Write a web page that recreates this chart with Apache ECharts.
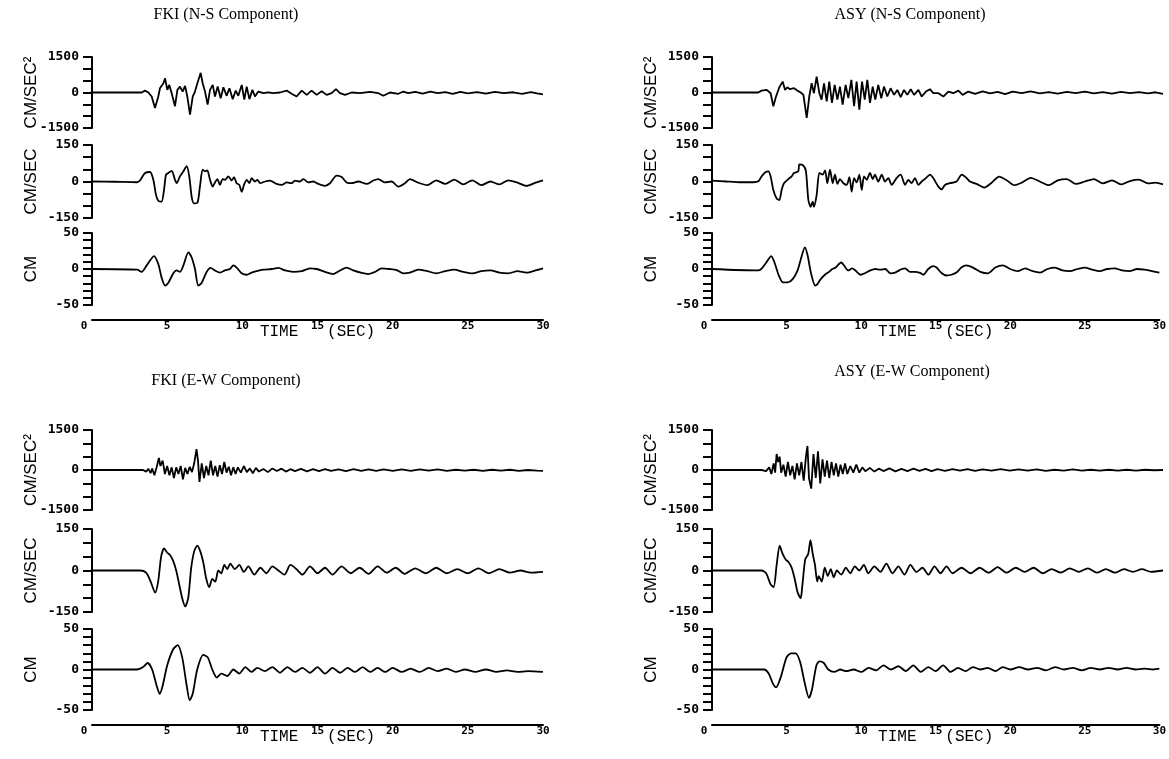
<!DOCTYPE html>
<html>
<head>
<meta charset="utf-8">
<title>FKI / ASY records</title>
<script src="https://cdn.jsdelivr.net/npm/echarts@6/dist/echarts.min.js"></script>
<style>
  html, body { margin: 0; padding: 0; background: #fff; }
  #chart { width: 1169px; height: 759px; }
</style>
</head>
<body>
<div id="chart"></div>
<script>
// ---- axis ticks and labels ----
const timeTicks = [0, 5, 10, 15, 20, 25, 30];
const accLabels = [1500, 0, -1500];
const velLabels = [150, 0, -150];
const dispLabels = [50, 0, -50];

// ---- FKI, N-S component: [time (s), value] ----
const fkiNsAcc = [[0,0],[3.3,0],[3.53,80],[3.75,0],[3.97,-170],[4.19,-650],[4.41,-170],[4.52,180],[4.75,390],[4.86,600],[5.01,110],[5.14,320],[5.3,-30],[5.52,-580],[5.68,110],[5.85,250],[6.03,40],[6.19,280],[6.34,-170],[6.52,-930],[6.7,-170],[6.85,40],[7.01,390],[7.23,830],[7.36,390],[7.52,40],[7.69,-510],[7.85,110],[8.03,320],[8.18,-170],[8.36,250],[8.56,-240],[8.74,220],[8.96,-140],[9.14,180],[9.36,-280],[9.56,80],[9.73,-140],[9.96,320],[10.13,-300],[10.29,250],[10.47,-280],[10.67,110],[10.84,-170],[11.06,40],[11.4,-30],[11.73,10],[12.06,-30],[12.5,0],[12.95,80],[13.28,-55],[13.61,-170],[13.95,80],[14.28,-100],[14.61,80],[14.94,-100],[15.28,55],[15.61,-100],[15.94,-30],[16.23,140],[16.5,-30],[16.83,-100],[17.27,0],[17.83,-30],[18.49,30],[19.05,-30],[19.38,-140],[19.82,0],[20.38,-55],[20.71,40],[21.04,-30],[21.5,30],[22.0,-50],[22.5,40],[23.0,-30],[23.5,20],[24.0,-60],[24.5,30],[25.0,-40],[25.6,20],[26.2,-50],[26.8,30],[27.4,-30],[28.0,10],[28.6,-60],[29.2,20],[29.6,-40],[30,-80]];
const fkiNsVel = [[0,0],[1.5,-1],[3.0,-3],[3.19,4],[3.53,35],[3.86,39],[4.08,7],[4.26,-56],[4.41,-79],[4.63,-83],[4.79,-35],[4.92,28],[5.08,35],[5.3,44],[5.52,7],[5.63,-7],[5.85,21],[6.08,42],[6.3,63],[6.47,21],[6.63,-63],[6.78,-90],[7.01,-88],[7.18,-21],[7.36,49],[7.52,42],[7.67,46],[7.85,7],[8.03,-21],[8.18,-4],[8.34,10],[8.51,-14],[8.69,10],[8.85,7],[9.07,21],[9.29,4],[9.45,18],[9.62,-7],[9.8,-14],[9.96,-42],[10.11,-14],[10.29,7],[10.47,-7],[10.62,14],[10.84,0],[11.0,7],[11.18,-7],[11.51,0],[11.84,4],[12.28,-10],[12.62,-14],[12.95,-4],[13.28,-7],[13.5,4],[13.84,0],[14.06,10],[14.39,-4],[14.72,0],[15.06,-10],[15.5,-18],[15.83,-7],[16.27,24],[16.61,18],[16.94,-4],[17.27,-7],[17.72,0],[18.27,-10],[18.71,4],[19.05,10],[19.49,-4],[19.93,0],[20.38,-21],[20.82,-7],[21.15,10],[21.7,-5],[22.3,-15],[22.9,5],[23.5,-10],[24.1,8],[24.7,-12],[25.3,5],[25.9,-15],[26.5,0],[27.1,-12],[27.7,5],[28.3,-5],[28.9,-18],[29.5,-5],[30,5]];
const fkiNsDisp = [[0,0],[3.0,-1],[3.3,-4],[3.64,5],[4.12,18],[4.41,7],[4.63,-12],[4.86,-23],[5.08,-19],[5.41,-6],[5.63,-2],[5.85,-4],[6.08,5],[6.41,23],[6.63,16],[6.85,0],[7.07,-23],[7.3,-19],[7.63,-4],[7.89,1.5],[8.18,-2],[8.51,-5],[8.85,-2],[9.18,0],[9.4,5],[9.62,2],[9.96,-6],[10.29,-8],[10.62,-5],[10.95,-3],[11.4,-1],[11.95,0],[12.4,1.5],[12.84,-2],[13.39,-4],[13.95,-3],[14.5,1],[14.94,0],[15.5,-4],[16.05,-7],[16.5,-2],[16.94,2],[17.38,-2],[17.94,-5.5],[18.38,-7],[18.82,-4],[19.27,1],[19.82,0],[20.27,-1.5],[20.71,-6],[21.15,-5],[21.7,-1],[22.3,-3],[22.9,-6],[23.5,-3],[24.1,-1],[24.7,-4],[25.3,-6],[25.9,-3],[26.5,-2],[27.1,-5],[27.7,-6],[28.3,-3],[28.9,-5],[29.5,-2],[30,1]];

// ---- ASY, N-S component ----
const asyNsAcc = [[0,0],[3.08,0],[3.3,80],[3.64,110],[3.9,-30],[4.08,-580],[4.26,-170],[4.48,220],[4.7,460],[4.86,110],[5.01,220],[5.19,140],[5.45,180],[5.68,80],[5.9,0],[6.08,-100],[6.3,-1070],[6.47,-170],[6.63,390],[6.78,-30],[6.96,670],[7.14,-30],[7.29,-300],[7.45,390],[7.63,-375],[7.8,460],[7.98,-440],[8.16,320],[8.34,-300],[8.51,250],[8.69,-510],[8.89,320],[9.07,-240],[9.27,530],[9.45,-580],[9.62,460],[9.8,-720],[9.98,460],[10.16,-300],[10.33,530],[10.51,-440],[10.69,250],[10.86,-300],[11.06,320],[11.26,-240],[11.44,250],[11.66,-170],[11.88,180],[12.11,-100],[12.33,110],[12.55,-200],[12.77,110],[12.99,-100],[13.22,140],[13.44,-100],[13.73,110],[13.95,-170],[14.23,40],[14.5,140],[14.72,-30],[15.06,-30],[15.39,-170],[15.72,40],[16.05,-30],[16.39,80],[16.67,-100],[17.05,40],[17.5,-60],[18.0,50],[18.5,-40],[19.0,30],[19.5,-70],[20.0,40],[20.6,-30],[21.2,50],[21.8,-40],[22.4,20],[23.0,-50],[23.6,30],[24.2,-30],[24.8,40],[25.4,-40],[26.0,20],[26.6,-50],[27.2,30],[27.8,-30],[28.4,20],[29.0,-40],[29.5,10],[30,-60]];
const asyNsVel = [[0,4],[0.98,0],[1.86,-3],[2.75,-3],[3.08,1],[3.3,21],[3.53,37],[3.75,42],[3.9,21],[4.08,-35],[4.3,-70],[4.48,-76],[4.63,-35],[4.79,-7],[5.08,10],[5.3,21],[5.45,35],[5.74,42],[5.81,70],[6.08,65],[6.25,42],[6.41,-76],[6.56,-104],[6.7,-83],[6.78,-104],[6.96,-56],[7.14,35],[7.36,28],[7.52,46],[7.67,-7],[7.85,49],[8.03,-7],[8.18,28],[8.34,-10],[8.51,10],[8.74,-7],[8.96,-14],[9.14,18],[9.29,-42],[9.45,14],[9.62,-4],[9.8,28],[9.96,-35],[10.11,21],[10.29,7],[10.51,35],[10.69,10],[10.84,28],[11.06,0],[11.29,28],[11.51,0],[11.73,14],[11.95,-14],[12.28,14],[12.55,28],[12.84,-14],[13.06,7],[13.28,-7],[13.5,14],[13.73,-14],[13.95,0],[14.23,14],[14.5,28],[14.72,14],[15.06,-21],[15.28,-32],[15.5,-14],[15.83,-7],[16.27,0],[16.61,28],[16.94,14],[17.16,0],[17.6,-10],[18.1,-25],[18.6,-5],[19.1,20],[19.6,5],[20.1,-15],[20.6,-5],[21.2,15],[21.8,0],[22.4,-15],[23.0,5],[23.6,10],[24.2,-10],[24.8,0],[25.4,10],[26.0,-8],[26.6,5],[27.2,-12],[27.8,2],[28.4,8],[29.0,-8],[29.5,-5],[30,-12]];
const asyNsDisp = [[0,0],[3.08,-2],[3.3,0],[3.64,9],[3.97,18],[4.19,9],[4.48,-9],[4.75,-18.5],[5.08,-18.5],[5.41,-14],[5.74,-2],[5.96,14],[6.23,30],[6.41,19],[6.63,-5],[6.92,-23],[7.07,-21],[7.29,-14],[7.63,-7],[7.85,-4],[8.07,0],[8.29,2],[8.51,7],[8.67,9],[8.85,5],[9.14,-2],[9.4,1],[9.62,-2],[9.96,-8],[10.29,-5.5],[10.62,-2],[10.95,0],[11.29,-1],[11.62,0],[11.95,-6],[12.28,-5],[12.73,0],[12.95,1],[13.28,-4],[13.61,-4],[13.95,-5.5],[14.17,-8],[14.5,0],[14.83,4],[15.06,2],[15.39,-5.5],[15.72,-9],[16.05,-8],[16.39,-5],[16.72,2],[17.05,5],[17.5,2],[18.0,-4],[18.5,-6],[19.0,2],[19.5,5],[20.0,0],[20.5,-3],[21.0,1],[21.5,-3],[22.0,-5],[22.5,0],[23.0,2],[23.5,-2],[24.0,-3],[24.5,0],[25.0,2],[25.5,-1],[26.0,-3],[26.5,0],[27.0,1],[27.5,-2],[28.0,-3],[28.5,0],[29.0,-1],[29.5,-3],[30,-5]];

// ---- FKI, E-W component ----
const fkiEwAcc = [[0,0],[3.4,0],[3.6,-60],[3.75,40],[3.9,-120],[4.0,60],[4.15,-200],[4.3,100],[4.45,450],[4.55,150],[4.7,350],[4.85,-150],[5.0,150],[5.15,-200],[5.3,100],[5.45,-300],[5.6,100],[5.75,-150],[5.9,150],[6.05,-350],[6.2,80],[6.35,-150],[6.5,120],[6.65,-80],[6.8,250],[6.95,780],[7.05,350],[7.15,-450],[7.3,250],[7.45,-300],[7.6,150],[7.75,-200],[7.9,350],[8.05,-200],[8.2,150],[8.35,-250],[8.5,180],[8.65,-150],[8.8,300],[8.95,-100],[9.1,120],[9.25,-200],[9.4,100],[9.55,-150],[9.7,100],[9.9,-100],[10.1,150],[10.3,-80],[10.5,60],[10.7,-120],[10.9,80],[11.1,-60],[11.4,40],[11.7,-80],[12.0,60],[12.3,-40],[12.6,50],[12.9,-60],[13.2,30],[13.5,-40],[13.9,40],[14.3,-50],[14.7,30],[15.1,-40],[15.5,30],[15.9,-30],[16.4,20],[16.9,-40],[17.4,30],[17.9,-30],[18.4,20],[18.9,-30],[19.4,20],[20.0,-30],[20.6,20],[21.2,-30],[21.8,20],[22.4,-20],[23.0,20],[23.6,-30],[24.2,10],[24.8,-20],[25.4,10],[26.0,-30],[26.6,10],[27.2,-20],[27.8,10],[28.4,-30],[29.0,0],[29.6,-20],[30,-30]];
const fkiEwVel = [[0,0],[3.2,0],[3.6,-8],[3.9,-40],[4.2,-80],[4.4,-40],[4.6,50],[4.8,80],[5.0,65],[5.2,55],[5.4,35],[5.6,0],[5.8,-50],[6.0,-100],[6.2,-130],[6.4,-100],[6.6,10],[6.8,70],[7.0,90],[7.2,70],[7.4,30],[7.6,-30],[7.8,-60],[8.0,-30],[8.2,-40],[8.4,0],[8.6,-10],[8.8,20],[9.0,5],[9.2,25],[9.5,5],[9.8,20],[10.1,-5],[10.4,15],[10.8,-15],[11.2,10],[11.6,-10],[12.0,15],[12.4,0],[12.8,-15],[13.2,20],[13.6,5],[14.0,-15],[14.5,15],[15.0,-10],[15.5,10],[16.0,-15],[16.6,15],[17.2,-10],[17.8,10],[18.4,-12],[19.0,15],[19.6,-8],[20.2,10],[20.8,-12],[21.5,8],[22.2,-10],[22.9,10],[23.6,-10],[24.3,5],[25.0,-10],[25.7,8],[26.4,-10],[27.1,5],[27.8,-8],[28.5,0],[29.2,-8],[30,-5]];
const fkiEwDisp = [[0,0],[3.0,0],[3.4,3],[3.7,8],[4.0,0],[4.3,-20],[4.5,-30],[4.7,-20],[5.0,5],[5.4,25],[5.7,30],[6.0,15],[6.3,-20],[6.5,-38],[6.7,-30],[7.0,0],[7.4,18],[7.7,15],[8.0,0],[8.3,-10],[8.6,-5],[9.0,-8],[9.4,0],[9.8,-5],[10.2,3],[10.6,-3],[11.0,2],[11.5,-2],[12.0,3],[12.5,-4],[13.0,3],[13.5,-3],[14.0,2],[14.5,-4],[15.0,3],[15.5,-5],[16.0,2],[16.5,-4],[17.0,2],[17.5,-3],[18.0,3],[18.5,-3],[19.0,2],[19.5,-3],[20.0,2],[20.6,-3],[21.2,1],[21.8,-3],[22.4,2],[23.0,-2],[23.6,1],[24.2,-3],[24.8,0],[25.5,-3],[26.2,0],[26.9,-3],[27.6,-1],[28.3,-3],[29.0,-2],[30,-3]];

// ---- ASY, E-W component ----
const asyEwAcc = [[0,0],[3.3,0],[3.6,-40],[3.8,100],[3.95,-150],[4.1,250],[4.2,-100],[4.3,600],[4.4,300],[4.5,500],[4.6,-100],[4.75,200],[4.9,-250],[5.05,300],[5.2,-200],[5.35,150],[5.5,-350],[5.65,250],[5.8,-200],[5.95,300],[6.1,-400],[6.25,500],[6.35,900],[6.45,-300],[6.6,-700],[6.75,600],[6.9,-300],[7.05,700],[7.2,-500],[7.35,400],[7.5,-250],[7.65,350],[7.8,-300],[7.95,300],[8.1,-200],[8.25,250],[8.4,-250],[8.55,200],[8.7,-150],[8.85,250],[9.0,-150],[9.2,150],[9.4,-100],[9.6,200],[9.8,-100],[10.0,100],[10.2,-50],[10.5,80],[10.8,-60],[11.1,50],[11.4,-40],[11.8,60],[12.2,-50],[12.6,40],[13.0,-40],[13.4,50],[13.8,-30],[14.2,40],[14.6,-40],[15.0,30],[15.5,-30],[16.0,30],[16.5,-20],[17.0,30],[17.5,-30],[18.0,20],[18.6,-20],[19.2,30],[19.8,-20],[20.4,20],[21.0,-20],[21.6,20],[22.2,-30],[22.8,10],[23.4,-20],[24.0,20],[24.6,-20],[25.2,10],[25.8,-20],[26.4,10],[27.0,-20],[27.6,10],[28.2,-20],[28.8,10],[29.4,-10],[30,0]];
const asyEwVel = [[0,0],[3.3,0],[3.6,-10],[3.9,-50],[4.1,-60],[4.3,20],[4.5,90],[4.7,60],[4.9,40],[5.1,30],[5.3,10],[5.5,-30],[5.7,-80],[5.9,-100],[6.0,-60],[6.2,40],[6.4,60],[6.55,110],[6.7,60],[6.85,20],[7.0,-40],[7.1,-20],[7.3,-40],[7.5,10],[7.7,-20],[7.9,5],[8.1,-25],[8.3,0],[8.6,-15],[8.9,10],[9.2,-10],[9.5,15],[9.8,0],[10.1,20],[10.4,-10],[10.8,15],[11.2,-5],[11.6,25],[12.0,-10],[12.4,15],[12.8,-15],[13.2,20],[13.6,-5],[14.0,10],[14.4,-15],[14.8,15],[15.2,-10],[15.6,15],[16.0,-10],[16.6,10],[17.2,-10],[17.8,10],[18.4,-8],[19.0,12],[19.6,-8],[20.2,10],[20.8,-5],[21.4,10],[22.0,-10],[22.6,5],[23.2,-8],[23.8,8],[24.4,-5],[25.0,8],[25.6,-8],[26.2,5],[26.8,-8],[27.4,5],[28.0,-5],[28.6,5],[29.2,-5],[30,0]];
const asyEwDisp = [[0,0],[3.5,0],[3.8,-5],[4.1,-18],[4.3,-22],[4.6,-10],[5.0,15],[5.3,20],[5.6,20],[5.9,10],[6.2,-15],[6.5,-35],[6.7,-25],[7.0,5],[7.2,10],[7.5,8],[7.8,0],[8.2,-3],[8.6,0],[9.0,-2],[9.5,0],[10.0,-3],[10.5,2],[11.0,-1],[11.5,5],[12.0,0],[12.5,4],[13.0,-2],[13.5,5],[14.0,-3],[14.5,3],[15.0,-2],[15.5,5],[16.0,-3],[16.5,2],[17.0,-2],[17.5,3],[18.0,0],[18.5,2],[19.0,-2],[19.5,3],[20.0,0],[20.6,3],[21.2,0],[21.8,2],[22.4,-1],[23.0,3],[23.6,0],[24.2,2],[24.8,-1],[25.4,2],[26.0,0],[26.6,2],[27.2,0],[27.8,2],[28.4,0],[29.0,1],[29.6,0],[30,1]];

// ---- layout of the four panels (pixel positions) ----
// each panel: left edge, then top / height of the three stacked plots
const upperRows = [{ top: 57, h: 71 }, { top: 145, h: 73 }, { top: 233, h: 72 }];
const lowerRows = [{ top: 430, h: 80 }, { top: 529, h: 83 }, { top: 629, h: 81 }];
const panels = [
  { title: 'FKI (N-S Component)', titleX: 226, titleY: 15,  left: 92,  rows: upperRows, data: [fkiNsAcc, fkiNsVel, fkiNsDisp] },
  { title: 'ASY (N-S Component)', titleX: 910, titleY: 15,  left: 712, rows: upperRows, data: [asyNsAcc, asyNsVel, asyNsDisp] },
  { title: 'FKI (E-W Component)', titleX: 226, titleY: 381, left: 92,  rows: lowerRows, data: [fkiEwAcc, fkiEwVel, fkiEwDisp] },
  { title: 'ASY (E-W Component)', titleX: 912, titleY: 372, left: 712, rows: lowerRows, data: [asyEwAcc, asyEwVel, asyEwDisp] }
];
const PANEL_W = 451;
// the three quantities: acceleration, velocity, displacement
const quantities = [
  { limit: 1500, step: 500, labels: accLabels,  name: 'CM/SEC²' },
  { limit: 150,  step: 50,  labels: velLabels,  name: 'CM/SEC' },
  { limit: 50,   step: 10,  labels: dispLabels, name: 'CM' }
];

const tickFont = { fontFamily: 'DejaVu Sans Mono', fontWeight: 'bold', fontSize: 13, color: '#000' };
const grids = [], xAxes = [], yAxes = [], series = [], graphics = [];

panels.forEach(p => {
  graphics.push({
    type: 'text', x: p.titleX, y: p.titleY,
    style: { text: p.title, fill: '#000', font: '16px "Liberation Serif"', align: 'center', verticalAlign: 'middle' }
  });
  quantities.forEach((q, k) => {
    const gi = grids.length;
    const row = p.rows[k];
    grids.push({ left: p.left, top: row.top, width: PANEL_W, height: row.h, containLabel: false });
    const isBottom = k === quantities.length - 1;
    xAxes.push(isBottom ? {
      gridIndex: gi, type: 'value', min: timeTicks[0], max: timeTicks[timeTicks.length - 1],
      interval: timeTicks[1] - timeTicks[0], offset: 15,
      axisLine: { show: true, onZero: false, lineStyle: { color: '#000', width: 2 } },
      axisTick: { show: false }, splitLine: { show: false },
      axisLabel: {
        ...tickFont, fontSize: 11, margin: 1,
        formatter: v => timeTicks.includes(v) ? (v === 0 ? '{z|0}' : String(v)) : '',
        rich: { z: { ...tickFont, fontSize: 11, padding: [0, 16, 0, 0] } }
      },
      name: 'TIME   (SEC)', nameLocation: 'middle', nameGap: 4, nameMoveOverlap: false,
      nameTextStyle: { fontFamily: 'Liberation Mono', fontSize: 16, color: '#000' }
    } : { gridIndex: gi, type: 'value', min: 0, max: 30, show: false });
    yAxes.push({
      gridIndex: gi, type: 'value', min: -q.limit, max: q.limit, interval: q.step,
      axisLine: { show: true, onZero: false, lineStyle: { color: '#000', width: 2 } },
      axisTick: { show: true, length: 9, lineStyle: { color: '#000', width: 2 } },
      splitLine: { show: false },
      axisLabel: { ...tickFont, margin: 13, formatter: v => q.labels.includes(v) ? String(v) : '' },
      name: q.name, nameLocation: 'middle', nameRotate: 90, nameGap: 52, nameMoveOverlap: false,
      nameTextStyle: { fontFamily: 'Liberation Sans', fontSize: 17, color: '#000' }
    });
    series.push({
      type: 'line', xAxisIndex: gi, yAxisIndex: gi, data: p.data[k],
      showSymbol: false, symbol: 'none', smooth: k === 0 ? false : 0.25,
      lineStyle: { color: '#000', width: 1.8 }, animation: false, silent: true
    });
  });
});

const chart = echarts.init(document.getElementById('chart'), null, { renderer: 'canvas' });
chart.setOption({
  backgroundColor: '#fff', animation: false,
  grid: grids, xAxis: xAxes, yAxis: yAxes, series: series, graphic: graphics
});
</script>
</body>
</html>
